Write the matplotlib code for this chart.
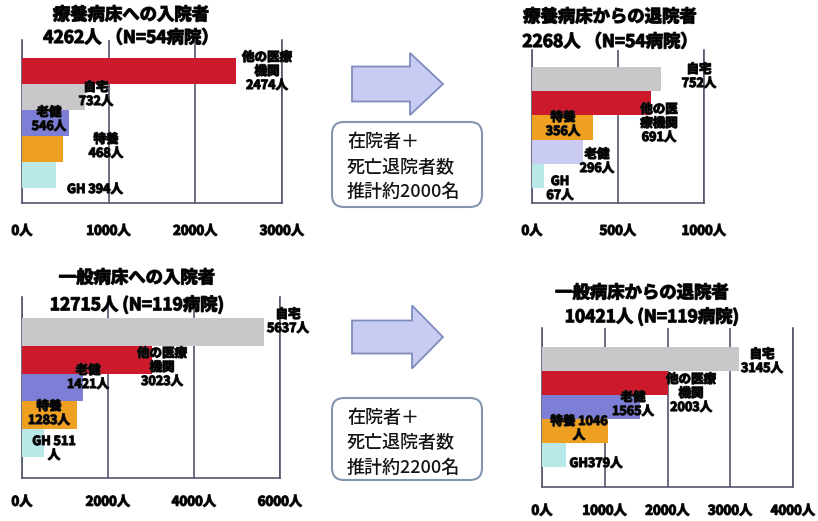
import matplotlib
matplotlib.use("Agg")
import matplotlib.pyplot as plt
import matplotlib.patheffects as pe
from matplotlib.patches import Polygon, FancyBboxPatch

plt.rcParams['font.family'] = ['Noto Sans CJK JP', 'DejaVu Sans']

# ---- data -------------------------------------------------------------
# 療養病床への入院者
tl_categories = ["他の医療機関", "自宅", "老健", "特養", "GH"]
tl_values = [2474, 732, 546, 468, 394]
# 療養病床からの退院者
tr_categories = ["自宅", "他の医療機関", "特養", "老健", "GH"]
tr_values = [752, 691, 356, 296, 67]
# 一般病床への入院者
bl_categories = ["自宅", "他の医療機関", "老健", "特養", "GH"]
bl_values = [5637, 3023, 1421, 1283, 511]
# 一般病床からの退院者
br_categories = ["自宅", "他の医療機関", "老健", "特養", "GH"]
br_values = [3145, 2003, 1565, 1046, 379]

tl_ticks = [0, 1000, 2000, 3000]
tr_ticks = [0, 500, 1000]
bl_ticks = [0, 2000, 4000, 6000]
br_ticks = [0, 1000, 2000, 3000, 4000]

tl_title = ["療養病床への入院者", "4262人 （N=54病院）"]
tr_title = ["療養病床からの退院者", "2268人 （N=54病院）"]
bl_title = ["一般病床への入院者", "12715人 (N=119病院)"]
br_title = ["一般病床からの退院者", "10421人 (N=119病院)"]

box_texts = [["在院者＋", "死亡退院者数", "推計約2000名"],
             ["在院者＋", "死亡退院者数", "推計約2200名"]]

# label layouts: text template per bar (line breaks differ per panel)
tl_fmt = ["他の医療\n機関\n{}人", "自宅\n{}人", "老健\n{}人", "特養\n{}人", "GH {}人"]
tr_fmt = ["自宅\n{}人", "他の医\n療機関\n{}人", "特養\n{}人", "老健\n{}人", "GH\n{}人"]
bl_fmt = ["自宅\n{}人", "他の医療\n機関\n{}人", "老健\n{}人", "特養\n{}人", "GH {}\n人"]
br_fmt = ["自宅\n{}人", "他の医療\n機関\n{}人", "老健\n{}人", "特養 {}\n人", "GH{}人"]

# ---- style ------------------------------------------------------------
COL = {"他の医療機関": "#cc1a2c", "自宅": "#c9c7c9", "老健": "#7d7fd6",
       "特養": "#f0a020", "GH": "#b8e8e8"}
COL_TR_ROUKEN = "#c9cbf2"
GRID = "#55556e"

W, H = 818, 521
fig = plt.figure(figsize=(W / 100, H / 100), dpi=100)
fig.patch.set_facecolor("white")

bold_fx = [pe.withStroke(linewidth=0.9, foreground="#222222")]


def panel(x0, x1, ytop, ybot, bar_top, bar_bot, cats, vals, ticks, pad,
          colors=None):
    ax = fig.add_axes([x0 / W, 1 - ybot / H, (x1 - x0) / W, (ybot - ytop) / H])
    n = len(vals)
    unit = (bar_bot - bar_top) / n
    cols = colors or [COL[c] for c in cats]
    ax.barh(range(n), vals, height=1.0, color=cols, zorder=3)
    ax.set_ylim(n - 0.5 + (ybot - bar_bot) / unit, -0.5 - (bar_top - ytop) / unit)
    ax.set_xlim(ticks[0], ticks[-1])
    ax.set_xticks(ticks, labels=[f"{t}人" for t in ticks])
    ax.set_yticks([])
    ax.tick_params(axis="x", length=0, pad=pad, labelsize=9.5)
    for lab in ax.get_xticklabels():
        lab.set_fontweight("bold")
        lab.set_path_effects(bold_fx)
    ax.grid(axis="x", color=GRID, linewidth=1.2, zorder=0)
    ax.set_axisbelow(True)
    ax.spines["top"].set_visible(False)
    for s in ("left", "right", "bottom"):
        ax.spines[s].set_color(GRID)
        ax.spines[s].set_linewidth(1.2)
        ax.spines[s].set_zorder(1)
    ax.patch.set_alpha(0)
    return ax


panel(22, 282, 40, 203, 58, 188, tl_categories, tl_values, tl_ticks, 15)
tr_cols = [COL[c] if c != "老健" else COL_TR_ROUKEN for c in tr_categories]
panel(532, 704, 50, 203, 67, 188, tr_categories, tr_values, tr_ticks, 15, tr_cols)
panel(22, 280, 297, 478, 318, 457, bl_categories, bl_values, bl_ticks, 12)
panel(542, 793, 328, 487, 347, 467, br_categories, br_values, br_ticks, 12)

# overlay in pixel coordinates for titles, labels, arrows and notes
ov = fig.add_axes([0, 0, 1, 1], zorder=10)
ov.set_xlim(0, W)
ov.set_ylim(H, 0)
ov.axis("off")
ov.patch.set_alpha(0)


def title(lines, x, y1, y2, x2=None):
    ov.text(x, y1, lines[0], ha="center", va="center", fontsize=12.5,
            fontweight="bold", path_effects=bold_fx)
    ov.text(x2 if x2 is not None else x, y2, lines[1], ha="center",
            va="center", fontsize=12.5, fontweight="bold", path_effects=bold_fx)


title(tl_title, 131, 15, 38)
title(tr_title, 610, 17, 42)
title(bl_title, 137, 278, 305)
title(br_title, 642, 293, 317, 652)


def labels(fmts, vals, spots):
    for f, v, (x, y) in zip(fmts, vals, spots):
        ov.text(x, y, f.format(v), ha="center", va="top", fontsize=9,
                fontweight="bold", linespacing=1.1, path_effects=bold_fx)


labels(tl_fmt, tl_values, [(267, 51), (96, 81), (49, 106), (106, 133), (95, 183)])
labels(tr_fmt, tr_values, [(699, 63), (659, 103), (563, 111), (597, 148), (560, 175)])
labels(bl_fmt, bl_values, [(288, 308), (162, 347), (88, 364), (49, 400), (54, 435)])
labels(br_fmt, br_values, [(762, 348), (691, 373), (633, 391), (579, 415), (596, 457)])


def arrow(xl, xh, xt, yc, body_h, head_h):
    pts = [(xl, yc - body_h / 2), (xh, yc - body_h / 2), (xh, yc - head_h / 2),
           (xt, yc), (xh, yc + head_h / 2), (xh, yc + body_h / 2),
           (xl, yc + body_h / 2)]
    ov.add_patch(Polygon(pts, closed=True, facecolor="#c8ccf2",
                         edgecolor="#7e8cbc", linewidth=1.3))


arrow(352, 410, 443, 84, 35, 62)
arrow(352, 412, 443, 337, 33, 63)


def note(x0, y0, x1, y1, lines, ys):
    ov.add_patch(FancyBboxPatch((x0, y0), x1 - x0, y1 - y0,
                                boxstyle="round,pad=0,rounding_size=12",
                                facecolor="white", edgecolor="#8496ae",
                                linewidth=1.5))
    for t, y in zip(lines, ys):
        ov.text(x0 + 15, y, t, ha="left", va="center", fontsize=13,
                fontweight="medium", color="#141414")


note(332, 122, 482, 207, box_texts[0], [142, 168, 192])
note(332, 398, 482, 480, box_texts[1], [418, 443, 468])

fig.savefig("out.png", dpi=100)
